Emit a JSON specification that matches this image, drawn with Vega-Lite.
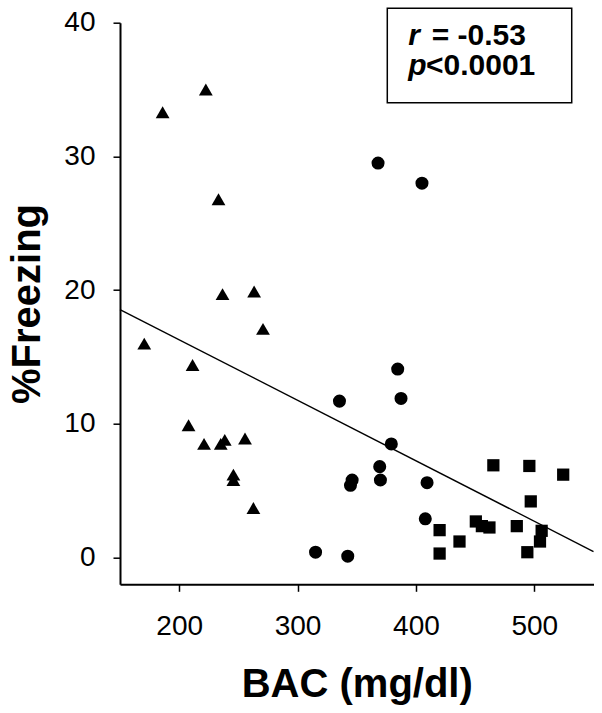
{
  "$schema": "https://vega.github.io/schema/vega-lite/v6.json",
  "width": 473.5,
  "height": 561.6,
  "autosize": "none",
  "padding": {"left": 120, "top": 22.7, "right": 8.5, "bottom": 128.7},
  "background": "white",
  "config": {"view": {"stroke": null}, "font": "Liberation Sans"},
  "datasets": {
    "points": [
      {"bac": 186, "freezing": 33.3, "group": "A"},
      {"bac": 222.5, "freezing": 35.0, "group": "A"},
      {"bac": 233.2, "freezing": 26.8, "group": "A"},
      {"bac": 236.6, "freezing": 19.7, "group": "A"},
      {"bac": 263.3, "freezing": 19.9, "group": "A"},
      {"bac": 270.8, "freezing": 17.1, "group": "A"},
      {"bac": 170.5, "freezing": 16.0, "group": "A"},
      {"bac": 211.3, "freezing": 14.4, "group": "A"},
      {"bac": 207.9, "freezing": 9.9, "group": "A"},
      {"bac": 221, "freezing": 8.5, "group": "A"},
      {"bac": 235.1, "freezing": 8.5, "group": "A"},
      {"bac": 238.5, "freezing": 8.8, "group": "A"},
      {"bac": 255.6, "freezing": 8.9, "group": "A"},
      {"bac": 245.8, "freezing": 6.2, "group": "A"},
      {"bac": 245.8, "freezing": 5.8, "group": "A"},
      {"bac": 262.7, "freezing": 3.7, "group": "A"},
      {"bac": 368, "freezing": 29.5, "group": "B"},
      {"bac": 405.1, "freezing": 28.0, "group": "B"},
      {"bac": 384.6, "freezing": 14.1, "group": "B"},
      {"bac": 387.4, "freezing": 11.9, "group": "B"},
      {"bac": 335.4, "freezing": 11.7, "group": "B"},
      {"bac": 379.2, "freezing": 8.5, "group": "B"},
      {"bac": 369.4, "freezing": 6.8, "group": "B"},
      {"bac": 370, "freezing": 5.8, "group": "B"},
      {"bac": 346.1, "freezing": 5.8, "group": "B"},
      {"bac": 344.7, "freezing": 5.4, "group": "B"},
      {"bac": 409.4, "freezing": 5.6, "group": "B"},
      {"bac": 407.9, "freezing": 2.9, "group": "B"},
      {"bac": 315.2, "freezing": 0.4, "group": "B"},
      {"bac": 342.4, "freezing": 0.1, "group": "B"},
      {"bac": 465.4, "freezing": 6.9, "group": "C"},
      {"bac": 495.8, "freezing": 6.85, "group": "C"},
      {"bac": 524.4, "freezing": 6.2, "group": "C"},
      {"bac": 497, "freezing": 4.2, "group": "C"},
      {"bac": 450.6, "freezing": 2.7, "group": "C"},
      {"bac": 455.7, "freezing": 2.35, "group": "C"},
      {"bac": 462.1, "freezing": 2.25, "group": "C"},
      {"bac": 485.2, "freezing": 2.35, "group": "C"},
      {"bac": 506.2, "freezing": 2.0, "group": "C"},
      {"bac": 504.8, "freezing": 1.2, "group": "C"},
      {"bac": 420, "freezing": 2.05, "group": "C"},
      {"bac": 436.8, "freezing": 1.2, "group": "C"},
      {"bac": 420, "freezing": 0.3, "group": "C"},
      {"bac": 494.1, "freezing": 0.4, "group": "C"}
    ],
    "fit": [
      {"bac": 150, "freezing": 18.55},
      {"bac": 550, "freezing": 0.45}
    ]
  },
  "layer": [
    {
      "data": {"name": "fit"},
      "mark": {"type": "line", "color": "black", "strokeWidth": 1.4},
      "encoding": {
        "x": {
          "field": "bac", "type": "quantitative",
          "scale": {"domain": [150, 550], "nice": false, "zero": false},
          "axis": {
            "values": [200, 300, 400, 500],
            "grid": false,
            "tickSize": 7, "tickWidth": 1.5, "tickColor": "black",
            "domainColor": "black", "domainWidth": 2,
            "labelFontSize": 28, "labelColor": "black", "labelPadding": 21, "labelFlush": false,
            "title": "BAC (mg/dl)", "titleFontSize": 40, "titleFontWeight": "bold",
            "titleColor": "black", "titlePadding": 24
          }
        },
        "y": {
          "field": "freezing", "type": "quantitative",
          "scale": {"domain": [-2, 40], "nice": false, "zero": false},
          "axis": {
            "values": [0, 10, 20, 30, 40],
            "grid": false,
            "tickSize": 7, "tickWidth": 1.5, "tickColor": "black",
            "domainColor": "black", "domainWidth": 2,
            "labelFontSize": 28, "labelColor": "black", "labelPadding": 18, "labelFlush": false,
            "title": "%Freezing", "titleFontSize": 40, "titleFontWeight": "bold",
            "titleColor": "black", "titlePadding": 16
          }
        }
      }
    },
    {
      "data": {"name": "points"},
      "mark": {"type": "point", "filled": true, "color": "black", "opacity": 1},
      "encoding": {
        "x": {"field": "bac", "type": "quantitative", "scale": {"domain": [150, 550], "nice": false, "zero": false}},
        "y": {"field": "freezing", "type": "quantitative", "scale": {"domain": [-2, 40], "nice": false, "zero": false}},
        "shape": {
          "field": "group", "type": "nominal",
          "scale": {"domain": ["A", "B", "C"], "range": ["triangle-up", "circle", "square"]},
          "legend": null
        },
        "size": {
          "field": "group", "type": "nominal",
          "scale": {"domain": ["A", "B", "C"], "range": [190, 150, 140]},
          "legend": null
        }
      }
    },
    {
      "data": {"values": [{}]},
      "mark": {"type": "rect", "fill": "white", "stroke": "black", "strokeWidth": 1.5},
      "encoding": {
        "x": {"datum": 375.8, "type": "quantitative"},
        "x2": {"datum": 531.6},
        "y": {"datum": 41.08, "type": "quantitative"},
        "y2": {"datum": 34.02}
      }
    },
    {
      "data": {"values": [{}]},
      "mark": {"type": "text", "align": "left", "baseline": "alphabetic", "fontSize": 30, "fontWeight": "bold", "fontStyle": "italic", "color": "black"},
      "encoding": {
        "x": {"datum": 393.5, "type": "quantitative"},
        "y": {"datum": 38.33, "type": "quantitative"},
        "text": {"value": "r"}
      }
    },
    {
      "data": {"values": [{}]},
      "mark": {"type": "text", "align": "left", "baseline": "alphabetic", "fontSize": 30, "fontWeight": "bold", "color": "black"},
      "encoding": {
        "x": {"datum": 413.3, "type": "quantitative"},
        "y": {"datum": 38.33, "type": "quantitative"},
        "text": {"value": "= -0.53"}
      }
    },
    {
      "data": {"values": [{}]},
      "mark": {"type": "text", "align": "left", "baseline": "alphabetic", "fontSize": 30, "fontWeight": "bold", "fontStyle": "italic", "color": "black"},
      "encoding": {
        "x": {"datum": 393.5, "type": "quantitative"},
        "y": {"datum": 36.09, "type": "quantitative"},
        "text": {"value": "p"}
      }
    },
    {
      "data": {"values": [{}]},
      "mark": {"type": "text", "align": "left", "baseline": "alphabetic", "fontSize": 30, "fontWeight": "bold", "color": "black"},
      "encoding": {
        "x": {"datum": 408.5, "type": "quantitative"},
        "y": {"datum": 36.09, "type": "quantitative"},
        "text": {"value": "<0.0001"}
      }
    }
  ]
}
